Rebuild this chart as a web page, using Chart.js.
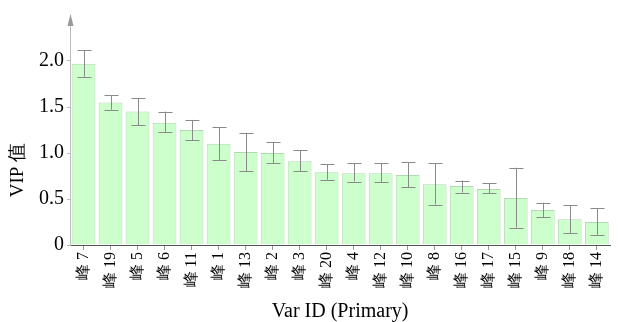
<!DOCTYPE html>
<html>
<head>
<meta charset="utf-8">
<script src="https://cdn.jsdelivr.net/npm/chart.js@4"></script>
<style>
  body { margin: 0; background: #fff; }
  #wrap { width: 618px; height: 322px; }
</style>
</head>
<body>
<div id="wrap"><canvas id="vipChart" width="618" height="322"></canvas></div>
<script>
// peaks, sorted by VIP
const peaks = ['峰 7', '峰 19', '峰 5', '峰 6', '峰 11', '峰 1', '峰 13', '峰 2', '峰 3', '峰 20',
               '峰 4', '峰 12', '峰 10', '峰 8', '峰 16', '峰 17', '峰 15', '峰 9', '峰 18', '峰 14'];
const vip = [1.97, 1.55, 1.45, 1.33, 1.25, 1.10, 1.01, 1.00, 0.91, 0.79,
             0.78, 0.78, 0.76, 0.66, 0.64, 0.61, 0.51, 0.38, 0.28, 0.25];
const errLow = [1.83, 1.47, 1.30, 1.23, 1.14, 0.92, 0.80, 0.89, 0.80, 0.71,
                0.69, 0.68, 0.63, 0.44, 0.57, 0.56, 0.19, 0.30, 0.13, 0.11];
const errHigh = [2.12, 1.63, 1.60, 1.45, 1.36, 1.28, 1.22, 1.12, 1.03, 0.88,
                 0.89, 0.89, 0.90, 0.89, 0.70, 0.67, 0.84, 0.46, 0.43, 0.40];
const yTicks = [0, 0.5, 1.0, 1.5, 2.0];

const serif = '"Liberation Serif", "Times New Roman", serif';

// error bars + axis arrow + y title
const extras = {
    id: 'extras',
    afterDatasetsDraw(chart) {
        const ctx = chart.ctx;
        const y = chart.scales.y;
        const meta = chart.getDatasetMeta(0);
        ctx.save();
        ctx.strokeStyle = '#8a8a8a';
        ctx.lineWidth = 1;
        meta.data.forEach((bar, i) => {
            const x = Math.round(bar.x) + 0.5;
            const yl = y.getPixelForValue(errLow[i]);
            const yh = y.getPixelForValue(errHigh[i]);
            ctx.beginPath();
            ctx.moveTo(x, yl);
            ctx.lineTo(x, yh);
            ctx.moveTo(x - 7, Math.round(yl) + 0.5);
            ctx.lineTo(x + 7, Math.round(yl) + 0.5);
            ctx.moveTo(x - 7, Math.round(yh) + 0.5);
            ctx.lineTo(x + 7, Math.round(yh) + 0.5);
            ctx.stroke();
        });
        ctx.restore();
    },
    afterDraw(chart) {
        const ctx = chart.ctx;
        const area = chart.chartArea;
        const ax = Math.round(area.left) + 0.5;
        ctx.save();
        ctx.fillStyle = '#999';
        ctx.beginPath();
        ctx.moveTo(ax, area.top - 1);
        ctx.lineTo(ax - 3, area.top + 11);
        ctx.lineTo(ax + 3, area.top + 11);
        ctx.closePath();
        ctx.fill();

        ctx.fillStyle = '#000';
        ctx.font = '19px ' + serif;
        ctx.textAlign = 'center';
        ctx.textBaseline = 'middle';
        ctx.translate(18, 170);
        ctx.rotate(-Math.PI / 2);
        ctx.fillText('VIP 值', 0, 0);
        ctx.restore();
    }
};

new Chart(document.getElementById('vipChart'), {
    type: 'bar',
    data: {
        labels: peaks,
        datasets: [{
            data: vip,
            backgroundColor: '#ccffcc',
            borderColor: '#b2d8b2',
            borderWidth: 1,
            categoryPercentage: 1,
            barPercentage: 0.88
        }]
    },
    options: {
        responsive: false,
        animation: false,
        layout: { padding: { top: 0, right: 1, bottom: 0, left: 0 } },
        plugins: {
            legend: { display: false },
            tooltip: { enabled: false }
        },
        scales: {
            x: {
                grid: {
                    offset: false,
                    drawOnChartArea: false,
                    tickLength: 5,
                    color: '#999'
                },
                border: { color: '#555', width: 1 },
                ticks: {
                    color: '#000',
                    font: { family: serif, size: 16 },
                    minRotation: 90,
                    maxRotation: 90,
                    autoSkip: false,
                    padding: 2
                },
                title: {
                    display: true,
                    text: 'Var ID (Primary)',
                    color: '#000',
                    font: { family: serif, size: 20, lineHeight: 1 },
                    padding: { top: 0, bottom: 0 }
                },
                afterFit(scale) { scale.height = 77; }
            },
            y: {
                min: 0,
                max: 2.5,
                grid: {
                    drawOnChartArea: false,
                    tickLength: 3,
                    color: '#bbb'
                },
                border: { color: '#bbb', width: 1 },
                ticks: {
                    stepSize: 0.25,
                    color: '#000',
                    font: { family: serif, size: 20 },
                    padding: 3,
                    callback: v => {
                        const t = yTicks.find(k => Math.abs(k - v) < 1e-6);
                        if (t === undefined) return '';
                        return t === 0 ? '0' : t.toFixed(1);
                    }
                },
                afterBuildTicks(scale) {
                    scale.ticks = scale.ticks.filter(t => t.value < 2.4);
                },
                afterFit(scale) { scale.width = 70; }
            }
        }
    },
    plugins: [extras]
});
</script>
</body>
</html>
